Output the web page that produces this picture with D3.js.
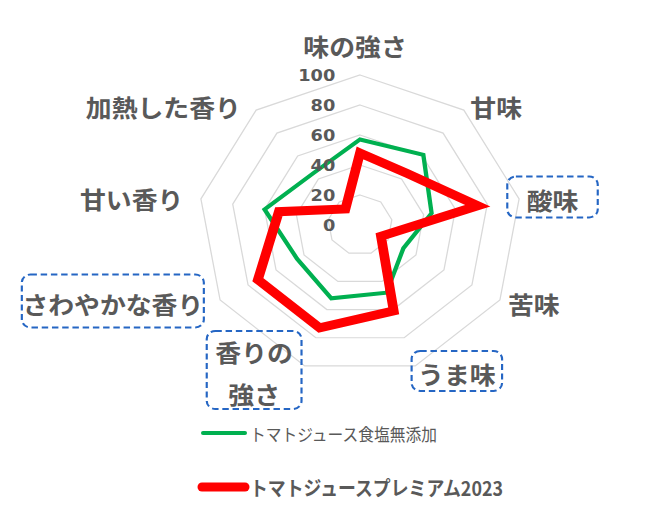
<!DOCTYPE html>
<html>
<head>
<meta charset="utf-8">
<script src="https://cdn.jsdelivr.net/npm/d3@7"></script>
<style>
  html, body { margin: 0; padding: 0; background: #ffffff; }
  svg { display: block; }
</style>
</head>
<body>
<div id="chart"></div>
<script>
// ---- data ----
const categories = ['味の強さ', '甘味', '酸味', '苦味', 'うま味', '香りの強さ', 'さわやかな香り', '甘い香り', '加熱した香り'];
const seriesNames = ['トマトジュース食塩無添加', 'トマトジュースプレミアム2023'];
const mutenkaValues = [57, 61, 45, 31, 48, 52, 45, 60, 45];
const premiumValues = [48, 45, 74, 15, 61, 73, 73, 51, 14];
const tickValues = [0, 20, 40, 60, 80, 100];

// ---- layout ----
const W = 650, H = 522;
const cx = 360, cy = 225, stretchX = 1.077;
const R = 150;
const textColor = '#595959';
const gridColor = '#d9d9d9';
const boxColor = '#2566c4';
const seriesColors = ['#00b050', '#ff0000'];
const seriesWidths = [4, 9];

// label placement relative to the outer ring vertex of each axis
const labelLayout = [
  { dx: -4.6, dy: -30, anchor: 'middle' },
  { dx: 6, dy: -4, anchor: 'start' },
  { dx: 7, dy: 0, anchor: 'start', box: [84, 41] },
  { dx: 7.5, dy: 3, anchor: 'start' },
  { dx: 2.6, dy: 7, anchor: 'start', box: [84, 40] },
  { dx: -47, dy: -15, anchor: 'middle', box: [88, 78], lines: ['香りの', '強さ'], lineGap: 42 },
  { dx: -15.6, dy: 3, anchor: 'end', box: [169, 53] },
  { dx: -16.3, dy: -1, anchor: 'end' },
  { dx: -14.2, dy: -4, anchor: 'end' }
];

const svg = d3.select('#chart').append('svg')
  .attr('width', W).attr('height', H)
  .attr('viewBox', `0 0 ${W} ${H}`);

svg.append('rect').attr('width', W).attr('height', H).attr('fill', '#ffffff');

const g = svg.append('g').attr('transform', `translate(${cx},${cy}) scale(${stretchX},1)`);

const angle = d3.scalePoint()
  .domain(d3.range(categories.length + 1))
  .range([0, 2 * Math.PI]);
const r = d3.scaleLinear().domain([0, 100]).range([0, R]);

const idx = d3.range(categories.length);

// grid rings
const ringLine = v => d3.lineRadial()
  .angle(i => angle(i))
  .radius(() => r(v))
  .curve(d3.curveLinearClosed)(idx);

g.append('g').selectAll('path')
  .data(tickValues.filter(v => v > 0))
  .join('path')
  .attr('d', v => ringLine(v))
  .attr('fill', 'none')
  .attr('stroke', gridColor)
  .attr('stroke-width', 1.2);

// series
const seriesData = [mutenkaValues, premiumValues];
const seriesLine = d3.lineRadial()
  .angle((d, i) => angle(i))
  .radius(d => r(d))
  .curve(d3.curveLinearClosed);

g.append('g').selectAll('path')
  .data(seriesData)
  .join('path')
  .attr('d', d => seriesLine(d))
  .attr('fill', 'none')
  .attr('stroke', (d, i) => seriesColors[i])
  .attr('stroke-width', (d, i) => seriesWidths[i])
  .attr('stroke-linejoin', 'miter')
  .attr('stroke-miterlimit', 10);

// tick labels
g.append('g').selectAll('text')
  .data(tickValues)
  .join('text')
  .attr('x', -23)
  .attr('y', v => -r(v))
  .attr('text-anchor', 'end')
  .attr('dominant-baseline', 'central')
  .attr('font-family', '"DejaVu Sans", sans-serif')
  .attr('font-weight', 'bold')
  .attr('font-size', 16.5)
  .attr('fill', textColor)
  .text(v => v);

// category labels
const labelFont = '"Noto Sans CJK JP", "Noto Sans", sans-serif';
const labelsG = g.append('g');
categories.forEach((c, i) => {
  const a = angle(i);
  const vx = r(100) * Math.sin(a);
  const vy = -r(100) * Math.cos(a);
  const L = labelLayout[i];
  const x = vx + L.dx, y = vy + L.dy;
  const lines = L.lines || [c];
  const gap = L.lineGap || 0;
  const t = labelsG.append('text')
    .attr('text-anchor', L.anchor)
    .attr('font-family', labelFont)
    .attr('font-weight', 'bold')
    .attr('font-size', 24)
    .attr('fill', textColor);
  lines.forEach((ln, k) => {
    t.append('tspan')
      .attr('x', x)
      .attr('y', y + k * gap)
      .attr('dominant-baseline', 'central')
      .text(ln);
  });
  if (L.box) {
    const bb = t.node().getBBox();
    const mx = bb.x + bb.width / 2;
    const my = y + (lines.length - 1) * gap / 2 - 2;
    labelsG.insert('rect', ':first-child')
      .attr('x', mx - L.box[0] / 2)
      .attr('y', my - L.box[1] / 2)
      .attr('width', L.box[0])
      .attr('height', L.box[1])
      .attr('rx', 8).attr('ry', 8)
      .attr('fill', 'none')
      .attr('stroke', boxColor)
      .attr('stroke-width', 2)
      .attr('stroke-dasharray', '6,3.5');
  }
});

// legend
const legendLayout = [
  { y: 433, x0: 203, x1: 245, tx: 250, size: 17, weight: 'normal', len: 187 },
  { y: 487, x0: 202, x1: 245, tx: 250, size: 20, weight: 'bold', len: 253 }
];
const lg = svg.append('g');
seriesNames.forEach((name, i) => {
  const L = legendLayout[i];
  lg.append('line')
    .attr('x1', L.x0).attr('x2', L.x1)
    .attr('y1', L.y).attr('y2', L.y)
    .attr('stroke', seriesColors[i])
    .attr('stroke-width', seriesWidths[i])
    .attr('stroke-linecap', 'round');
  lg.append('text')
    .attr('x', L.tx).attr('y', L.y)
    .attr('dominant-baseline', 'central')
    .attr('font-family', labelFont)
    .attr('font-weight', L.weight)
    .attr('font-size', L.size)
    .attr('fill', textColor)
    .attr('textLength', L.len)
    .attr('lengthAdjust', 'spacingAndGlyphs')
    .text(name);
});
</script>
</body>
</html>
